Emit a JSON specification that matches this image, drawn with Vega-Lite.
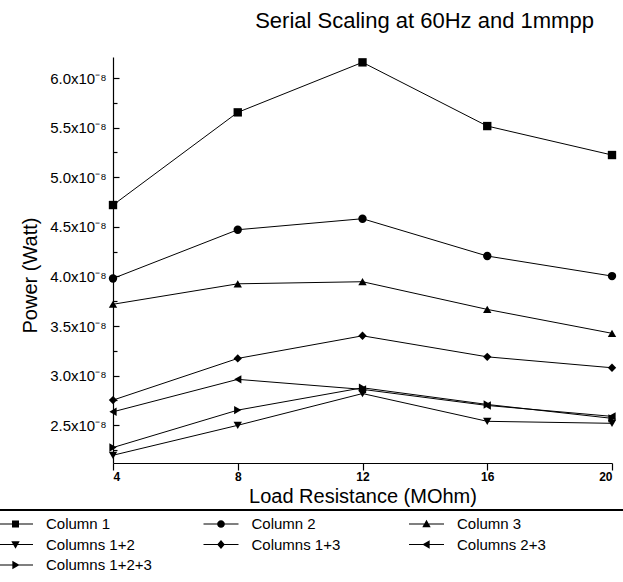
{
  "$schema": "https://vega.github.io/schema/vega-lite/v6.json",
  "width": 499,
  "height": 406,
  "autosize": {"type": "none"},
  "padding": {"left": 113, "top": 57, "right": 11, "bottom": 119},
  "background": "white",
  "config": {
    "font": "Liberation Sans",
    "view": {"stroke": null},
    "axis": {"domainColor": "black", "tickColor": "black", "labelColor": "black", "titleColor": "black", "grid": false, "domainWidth": 1.2, "tickWidth": 1.2}
  },
  "title": {
    "text": "Serial Scaling at 60Hz and 1mmpp",
    "fontSize": 22,
    "fontWeight": "normal",
    "color": "black",
    "anchor": "middle",
    "dx": 62,
    "offset": 24
  },
  "resolve": {
    "scale": {"x": "independent", "y": "independent", "shape": "independent"},
    "axis": {"x": "independent", "y": "independent"},
    "legend": {"shape": "independent"}
  },
  "data": {
    "values": [
      {"series": "Column 1", "R": 4, "P": 4.72e-8},
      {"series": "Column 1", "R": 8, "P": 5.654e-8},
      {"series": "Column 1", "R": 12, "P": 6.158e-8},
      {"series": "Column 1", "R": 16, "P": 5.516e-8},
      {"series": "Column 1", "R": 20, "P": 5.224e-8},
      {"series": "Column 2", "R": 4, "P": 3.98e-8},
      {"series": "Column 2", "R": 8, "P": 4.471e-8},
      {"series": "Column 2", "R": 12, "P": 4.582e-8},
      {"series": "Column 2", "R": 16, "P": 4.206e-8},
      {"series": "Column 2", "R": 20, "P": 4.004e-8},
      {"series": "Column 3", "R": 4, "P": 3.72e-8},
      {"series": "Column 3", "R": 8, "P": 3.926e-8},
      {"series": "Column 3", "R": 12, "P": 3.947e-8},
      {"series": "Column 3", "R": 16, "P": 3.668e-8},
      {"series": "Column 3", "R": 20, "P": 3.427e-8},
      {"series": "Columns 1+2", "R": 4, "P": 2.198e-8},
      {"series": "Columns 1+2", "R": 8, "P": 2.5e-8},
      {"series": "Columns 1+2", "R": 12, "P": 2.82e-8},
      {"series": "Columns 1+2", "R": 16, "P": 2.54e-8},
      {"series": "Columns 1+2", "R": 20, "P": 2.52e-8},
      {"series": "Columns 1+3", "R": 4, "P": 2.754e-8},
      {"series": "Columns 1+3", "R": 8, "P": 3.174e-8},
      {"series": "Columns 1+3", "R": 12, "P": 3.402e-8},
      {"series": "Columns 1+3", "R": 16, "P": 3.19e-8},
      {"series": "Columns 1+3", "R": 20, "P": 3.08e-8},
      {"series": "Columns 2+3", "R": 4, "P": 2.636e-8},
      {"series": "Columns 2+3", "R": 8, "P": 2.963e-8},
      {"series": "Columns 2+3", "R": 12, "P": 2.862e-8},
      {"series": "Columns 2+3", "R": 16, "P": 2.7e-8},
      {"series": "Columns 2+3", "R": 20, "P": 2.59e-8},
      {"series": "Columns 1+2+3", "R": 4, "P": 2.276e-8},
      {"series": "Columns 1+2+3", "R": 8, "P": 2.653e-8},
      {"series": "Columns 1+2+3", "R": 12, "P": 2.878e-8},
      {"series": "Columns 1+2+3", "R": 16, "P": 2.71e-8},
      {"series": "Columns 1+2+3", "R": 20, "P": 2.57e-8}
    ]
  },
  "layer": [
    {
      "mark": {"type": "rule", "color": "black", "strokeWidth": 1, "clip": false},
      "encoding": {
        "x": {"datum": -0.3, "type": "quantitative", "scale": {"domain": [0, 1]}, "axis": null},
        "x2": {"datum": 1.3},
        "y": {"datum": -0.116, "type": "quantitative", "scale": {"domain": [0, 1]}, "axis": null}
      }
    },
    {
      "mark": {"type": "line", "color": "black", "strokeWidth": 1},
      "encoding": {
        "x": {"field": "R", "type": "quantitative", "scale": {"domain": [4, 20]}, "axis": null},
        "y": {
          "field": "P", "type": "quantitative",
          "scale": {"domain": [2.12e-8, 6.212e-8], "zero": false},
          "axis": {
            "orient": "left",
            "values": [2.25e-8, 2.75e-8, 3.25e-8, 3.75e-8, 4.25e-8, 4.75e-8, 5.25e-8, 5.75e-8],
            "labels": false, "domain": false, "title": null, "tickSize": -4
          }
        },
        "detail": {"field": "series"}
      }
    },
    {
      "mark": {"type": "point", "filled": true, "color": "black", "opacity": 1, "size": 70},
      "encoding": {
        "x": {
          "field": "R", "type": "quantitative",
          "scale": {"domain": [4, 20]},
          "axis": {
            "orient": "bottom",
            "values": [4, 8, 12, 16, 20],
            "title": "Load Resistance (MOhm)",
            "titleFontSize": 20, "titleFontWeight": "normal", "titlePadding": 4,
            "labelFontSize": 12, "labelFontWeight": "bold", "tickSize": 7, "labelPadding": 1
          }
        },
        "y": {
          "field": "P", "type": "quantitative",
          "scale": {"domain": [2.12e-8, 6.212e-8], "zero": false},
          "axis": {
            "orient": "left",
            "values": [2.5e-8, 3.0e-8, 3.5e-8, 4.0e-8, 4.5e-8, 5.0e-8, 5.5e-8, 6.0e-8],
            "labelExpr": "format(datum.value*1e8, '.1f') + 'x10⁻⁸'",
            "title": "Power (Watt)",
            "titleFontSize": 20, "titleFontWeight": "normal", "titlePadding": 9, "titleY": 218,
            "labelFontSize": 15, "tickSize": -6, "labelPadding": 13
          }
        },
        "shape": {
          "field": "series", "type": "nominal",
          "scale": {
            "domain": ["Column 1", "Column 2", "Column 3", "Columns 1+2", "Columns 1+3", "Columns 2+3", "Columns 1+2+3"],
            "range": ["square", "circle", "triangle-up", "triangle-down", "diamond", "triangle-left", "triangle-right"]
          },
          "legend": null
        }
      }
    },
    {
      "transform": [{"filter": "false"}],
      "mark": {"type": "point", "filled": true, "color": "black", "opacity": 1},
      "encoding": {
        "shape": {
          "field": "series", "type": "nominal",
          "scale": {
            "domain": ["Column 1", "Column 2", "Column 3", "Columns 1+2", "Columns 1+3", "Columns 2+3", "Columns 1+2+3"],
            "range": [
              "M-1,-0.07H4V0.07H-1ZM1,-0.5H2V0.5H1Z",
              "M-1,-0.07H4V0.07H-1ZM0.95,0A0.55,0.55,0,1,1,2.05,0A0.55,0.55,0,1,1,0.95,0Z",
              "M-1,-0.07H4V0.07H-1ZM1.5,-0.6L2.1,0.45L0.9,0.45Z",
              "M-1,-0.07H4V0.07H-1ZM1.5,0.6L0.9,-0.45L2.1,-0.45Z",
              "M-1,-0.07H4V0.07H-1ZM1.5,-0.65L2.05,0L1.5,0.65L0.95,0Z",
              "M-1,-0.07H4V0.07H-1ZM0.9,0L1.95,-0.6L1.95,0.6Z",
              "M-1,-0.07H4V0.07H-1ZM2.1,0L1.05,0.6L1.05,-0.6Z"
            ]
          },
          "legend": {
            "orient": "none",
            "direction": "horizontal",
            "legendX": -116,
            "legendY": 459,
            "title": null,
            "columns": 3,
            "gridAlign": "all",
            "columnPadding": 48.5,
            "rowPadding": 4.5,
            "padding": 0,
            "symbolSize": 196,
            "symbolOpacity": 1,
            "symbolFillColor": "black",
            "labelOffset": 33,
            "labelFontSize": 15,
            "labelColor": "black"
          }
        }
      }
    }
  ]
}
